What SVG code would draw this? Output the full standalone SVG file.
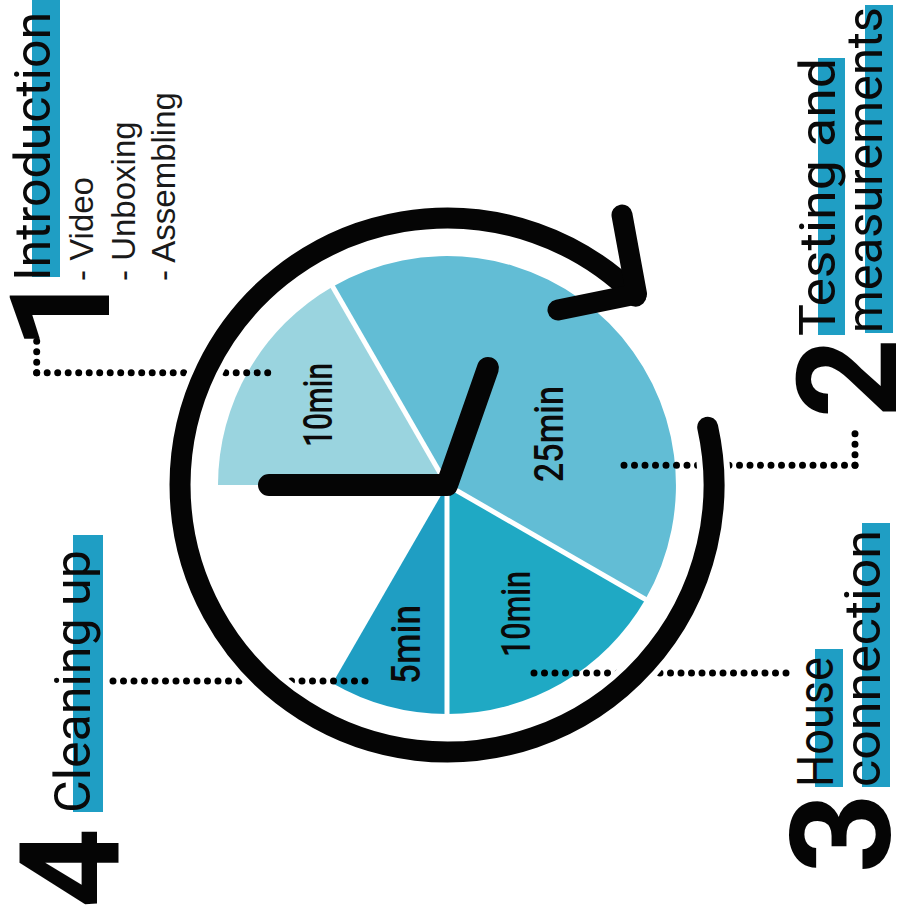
<svg xmlns="http://www.w3.org/2000/svg" width="898" height="920" viewBox="0 0 898 920">
<style>
.bar{fill:#1F9EC4}
.head{font-family:Roboto,"Liberation Sans",sans-serif;font-weight:400;font-size:50px;fill:#0a0a0a}
.num{font-family:Roboto,"Liberation Sans",sans-serif;font-weight:700;font-size:140px;fill:#050505;text-anchor:middle}
.sub{font-family:"Liberation Sans",Arial,sans-serif;font-size:33px;fill:#1a1a1a}
.lbl{font-family:Roboto,"DejaVu Sans Condensed",sans-serif;font-weight:500;font-size:41px;fill:#0a0a0a}
.dots{fill:none;stroke:#000;stroke-width:7;stroke-linecap:round;stroke-dasharray:0 10.5}
.blk{fill:none;stroke:#050505;stroke-linecap:round;stroke-linejoin:round}
.sep{stroke:#fff;stroke-width:5}
</style>
<rect width="898" height="920" fill="#fff"/>

<g id="pie">
  <path d="M447,485 L218,485 A229,229 0 0 1 332.5,286.7 Z" fill="#9AD4DF"/>
  <path d="M447,485 L332.5,286.7 A229,229 0 0 1 645.3,599.5 Z" fill="#62BDD5"/>
  <path d="M447,485 L645.3,599.5 A229,229 0 0 1 447,714 Z" fill="#1FA9C4"/>
  <path d="M447,485 L447,714 A229,229 0 0 1 332.5,683.3 Z" fill="#1F9EC3"/>
  <line class="sep" x1="447" y1="485" x2="330" y2="282"/>
  <line class="sep" x1="447" y1="485" x2="650" y2="602"/>
  <line class="sep" x1="447" y1="485" x2="447" y2="720"/>
  <text class="lbl" transform="translate(332,447) rotate(-90)" textLength="84" lengthAdjust="spacingAndGlyphs">10min</text>
  <text class="lbl" transform="translate(563,482) rotate(-90)" textLength="96" lengthAdjust="spacingAndGlyphs">25min</text>
  <text class="lbl" transform="translate(530,657) rotate(-90)" textLength="86" lengthAdjust="spacingAndGlyphs">10min</text>
  <text class="lbl" transform="translate(420,684) rotate(-90)" textLength="79" lengthAdjust="spacingAndGlyphs">5min</text>
</g>

<g id="connectors">
  <path class="dots" d="M36.7,372.7 H270"/>
  <path class="dots" d="M36.7,372.7 V330.7"/>
  <path class="dots" d="M855,465.3 H621"/>
  <path class="dots" d="M855,465.3 V423.3"/>
  <path class="dots" d="M786,673 H531"/>
  <path class="dots" d="M113,681 H369"/>
</g>

<g id="clock">
  <path d="M707.7,427.2 A267,267 0 1 1 635.8,296.2" fill="none" stroke="#fff" stroke-width="33" stroke-linecap="round"/>
  <path class="blk" d="M707.7,427.2 A267,267 0 1 1 635.8,296.2" stroke-width="21"/>
  <path class="blk" d="M622,215 L636.5,294 L558,310" stroke-width="21"/>
  <path class="blk" d="M269,485 L447,485 L488,368" stroke-width="22"/>
</g>

<g id="node-introduction">
  <rect class="bar" x="32" y="0" width="28" height="277"/>
  <text class="head" transform="translate(50,281) rotate(-90)" textLength="269" lengthAdjust="spacingAndGlyphs">Introduction</text>
  <text class="sub" transform="translate(93,281) rotate(-90)">- Video</text>
  <text class="sub" transform="translate(135,281) rotate(-90)">- Unboxing</text>
  <text class="sub" transform="translate(175,281) rotate(-90)">- Assembling</text>
  <text class="num" transform="translate(109,310) rotate(-90)">1</text>
</g>

<g id="node-testing">
  <rect class="bar" x="818" y="58" width="27" height="277"/>
  <rect class="bar" x="865" y="5" width="28" height="328"/>
  <text class="head" transform="translate(835,336) rotate(-90)" textLength="278" lengthAdjust="spacingAndGlyphs">Testing and</text>
  <text class="head" transform="translate(882,333) rotate(-90)" textLength="326" lengthAdjust="spacingAndGlyphs">measurements</text>
  <text class="num" transform="translate(896,378) rotate(-90)">2</text>
</g>

<g id="node-house">
  <rect class="bar" x="815" y="649" width="28" height="138"/>
  <rect class="bar" x="862" y="523" width="28" height="264"/>
  <text class="head" transform="translate(833,787) rotate(-90)" textLength="130" lengthAdjust="spacingAndGlyphs">House</text>
  <text class="head" transform="translate(880,787) rotate(-90)" textLength="257" lengthAdjust="spacingAndGlyphs">connection</text>
  <text class="num" transform="translate(890,833) rotate(-90)">3</text>
</g>

<g id="node-cleaning">
  <rect class="bar" x="73" y="535" width="30" height="277"/>
  <text class="head" transform="translate(90,813) rotate(-90)" textLength="263" lengthAdjust="spacingAndGlyphs">Cleaning up</text>
  <text class="num" transform="translate(119,868) rotate(-90)">4</text>
</g>
</svg>
